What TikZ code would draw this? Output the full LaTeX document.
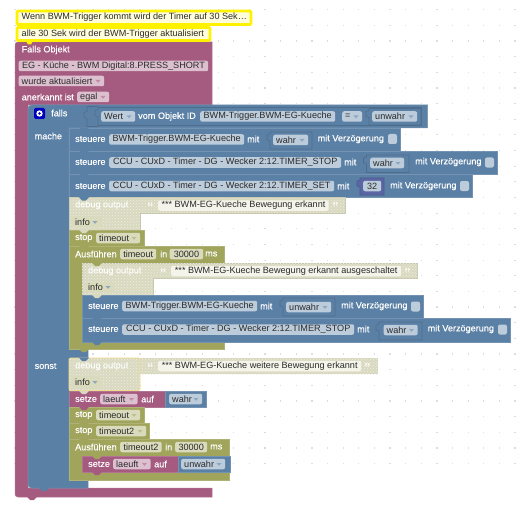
\documentclass[tikz,border=0pt]{standalone}
\usepackage{fontspec}
\setmainfont{Liberation Sans}
\newfontfamily\lblf[FakeBold=0.35]{Liberation Sans}
\usetikzlibrary{patterns}
\definecolor{purp}{HTML}{A55B80}
\definecolor{blu}{HTML}{5B80A5}
\definecolor{grn}{HTML}{A0A55B}
\definecolor{numb}{HTML}{5B67A5}
\definecolor{fpurp}{HTML}{DDC0CF}
\definecolor{fblu}{HTML}{BDCCDB}
\definecolor{fgrn}{HTML}{DADBBD}
\definecolor{fdis}{HTML}{F4F4EA}
\definecolor{dis}{HTML}{D9D9C0}
\definecolor{ink}{HTML}{2A2A2A}
\definecolor{griddot}{HTML}{DDDDDD}
\definecolor{warnline}{HTML}{F3D98B}
\tikzset{
  x=1pt,y=-1pt,
  lbl/.style={anchor=west,inner sep=0,text=white,font=\lblf\fontsize{9.1}{10}\selectfont},
  dlbl/.style={lbl,text=white!92!dis},
  fld/.style={anchor=west,inner sep=0,rounded corners=2pt,minimum height=10.5pt,text=ink,font=\fontsize{9.1}{10}\selectfont},
  blk/.style={fill=#1,draw=#1!85!white,line width=.5pt},
  vbox/.style={fill=#1,draw=#1!85!black,line width=.6pt},
  disb/.style={fill=dis,draw=dis!92!black,line width=.4pt},
  hatch/.style={pattern=crosshatch dots,pattern color=white!55!dis},
  cmt/.style={fill=white!86!yellow,draw=yellow,line width=2.8pt,rounded corners=1pt},
  quot/.style={anchor=west,inner sep=0,text=white!85!dis,font=\fontsize{13}{13}\bfseries\selectfont}
}
\newcounter{fc}
\newcommand\fld[5]{\stepcounter{fc}\pgfmathsetmacro\fw{#3-#2}%
  \node[fld,fill=#1,minimum width=\fw pt] (f\thefc) at (#2,#4) {#5};}
\newcommand\dfld[6]{\stepcounter{fc}\pgfmathsetmacro\fw{#3-#2}%
  \node[fld,fill=#1,minimum width=\fw pt] (f\thefc) at (#2,#4) {\hbox to \fw pt{\hspace{3pt}#5\hss}};
  \fill[#6] (#3-8.5,#4-1) -- (#3-3.5,#4-1) -- (#3-6,#4+1.8) -- cycle;}
\newcommand\notch[3]{\fill[#3] (#1+10,#2-.3) -- (#1+13,#2+3) -- (#1+17,#2+3) -- (#1+20,#2-.3) -- cycle;}
\newcommand\chkbox[2]{\fill[fblu,rounded corners=2pt] (#1,#2-5) rectangle (#1+9,#2+5);}
\newcommand\vb[5]{\draw[vbox=#5] (#1,#2) -- (#3,#2) -- (#3,#4) -- (#1,#4) -- (#1,#2+9) -- (#1-3,#2+8) -- (#1-3,#2+3) -- (#1,#2+2) -- cycle;}
\newcommand\lb[3][lbl]{\stepcounter{fc}\node[#1] (f\thefc) at (#2,#3)}
\begin{document}
\begin{tikzpicture}
\useasboundingbox (0,0) rectangle (522,508);
\fill[white] (0,0) rectangle (522,508);
% grid of dots
\foreach \i in {1,...,33}{\foreach \j in {0,...,29}{
  \fill[griddot] ({15.63*\i-.7-.6},{41+15.65*(\j-2)-.6}) rectangle ++(1.2,1.2);}}
% purple event block
\draw[blk=purp] (212,42) -- (212,105) -- (28,105) -- (28,488) -- (212,488) -- (212,497) [rounded corners=3pt] -- (15,497) -- (15,42) [sharp corners] -- cycle;
\notch{17}{497}{purp}
% comments
\draw[cmt] (17,11) rectangle (251,24.5);
\draw[cmt] (17,27.5) rectangle (210,40.5);
\fill[yellow] (26,41) -- (28,44.5) -- (31,44.5) -- (33,41) -- cycle;
\lb[fld,text=ink]{21.5}{17.3} {Wenn BWM-Trigger kommt wird der Timer auf 30 Sek…};
\lb[fld,text=ink]{21.5}{34} {alle 30 Sek wird der BWM-Trigger aktualisiert};
\lb{21.5}{50} {Falls Objekt};
\fld{fpurp}{18.5}{208}{66}{EG - Küche - BWM Digital:8.PRESS\_SHORT}
\dfld{fpurp}{18.5}{104}{81}{wurde aktualisiert}{purp!70!white}
\lb{21.5}{97} {anerkannt ist};
\dfld{fpurp}{77}{109}{97}{egal}{purp!70!white}
% blue if block
\draw[blk=blu] (427.5,105) -- (427.5,128) -- (69,128) -- (69,349) -- (88,349) -- (88,358) -- (69,358) -- (69,480) -- (88,480) -- (88,488) [rounded corners=3.5pt] -- (28,488) -- (28,105) [sharp corners] -- cycle;
\notch{29}{488}{blu}
% gear icon
\fill[blue!75!black,rounded corners=1.5pt] (34,108) rectangle (45,119);
\fill[white] (39.5,113.5) circle (3.2pt);
\fill[blue!75!black] (39.5,113.5) circle (1.3pt);
\lb{51}{113} {falls};
\lb{34.5}{136} {mache};
\lb{34.5}{366} {sonst};
% condition
\draw[blu!85!black,line width=.6pt] (98,106.5) -- (87,106.5) -- (87,111.5) -- (84,112.5) -- (84,117.5) -- (87,118.5) -- (87,126.5) -- (98,126.5);
\vb{98}{107.5}{421.5}{125.5}{blu}
\dfld{fblu}{101}{135}{116.5}{Wert}{blu!70!white}
\lb{138}{116.5} {vom Objekt ID};
\fld{fblu}{200}{335}{116.5}{BWM-Trigger.BWM-EG-Kueche}
\dfld{fblu}{342}{362}{116.5}{=}{blu!70!white}
\vb{369}{108.5}{421}{125}{blu}
\dfld{fblu}{372}{417}{116.5}{unwahr}{blu!70!white}
% steuere 1
\draw[blk=blu] (69,128) rectangle (400,151);
\notch{69}{128}{blu}
\lb{75}{139} {steuere};
\fld{fblu}{109}{244}{139.5}{BWM-Trigger.BWM-EG-Kueche}
\lb{247}{139} {mit};
\vb{270}{132}{312}{149}{blu}
\dfld{fblu}{273}{308}{140}{wahr}{blu!70!white}
\lb{317.5}{139} {mit Verzögerung};
\chkbox{388}{139}
% steuere 2
\draw[blk=blu] (69,151) rectangle (497,174);
\notch{69}{151}{blu}
\lb{75}{162} {steuere};
\fld{fblu}{109}{341}{162.5}{CCU - CUxD - Timer - DG - Wecker 2:12.TIMER\_STOP}
\lb{344}{162} {mit};
\vb{366.5}{155}{409}{172.5}{blu}
\dfld{fblu}{370}{404}{163}{wahr}{blu!70!white}
\lb{415}{162} {mit Verzögerung};
\chkbox{485}{162.5}
% steuere 3
\draw[blk=blu] (69,174) rectangle (472,197.5);
\notch{69}{174}{blu}
\lb{75}{186} {steuere};
\fld{fblu}{109}{334}{186}{CCU - CUxD - Timer - DG - Wecker 2:12.TIMER\_SET}
\lb{337}{186} {mit};
\vb{360}{178}{384}{195}{numb}
\fld{fblu}{363}{381}{186}{32}
\lb{390}{186} {mit Verzögerung};
\chkbox{460}{186}
% debug 1
\draw[disb] (69,197.5) -- (345.5,197.5) -- (345.5,213) -- (140,213) -- (140,230) -- (69,230) -- cycle;
\fill[hatch] (69,197.5) -- (345.5,197.5) -- (345.5,213) -- (140,213) -- (140,230) -- (69,230) -- cycle;
\notch{69}{197.5}{blu}
\lb[dlbl]{75}{205} {debug output};
\lb[quot]{147}{207} {“};
\fld{fdis}{158}{328.5}{205.5}{*** BWM-EG-Kueche Bewegung erkannt}
\lb[quot]{332}{207} {”};
\dfld{fgrn}{72}{101}{222}{info}{blu!70!white}
% stop
\draw[blk=grn] (69,230) rectangle (144,246);
\notch{69}{230}{dis}
\lb{75}{238} {stop};
\dfld{fgrn}{96}{140}{238}{timeout}{grn!70!white}
% Ausführen 1
\draw[blk=grn] (224,246) -- (224,263) -- (82,263) -- (82,342) -- (224,342) -- (224,349) -- (69,349) -- (69,246) -- cycle;
\notch{69}{246}{grn}
\lb{75}{254} {Ausführen};
\fld{fgrn}{120}{156}{254}{timeout}
\lb{160}{254} {in};
\fld{fgrn}{169.5}{203}{254}{30000}
\lb{205}{254} {ms};
\notch{69}{349}{grn}
% inner debug
\draw[disb] (82,263) -- (417.5,263) -- (417.5,278) -- (153,278) -- (153,295) -- (82,295) -- cycle;
\fill[hatch] (82,263) -- (417.5,263) -- (417.5,278) -- (153,278) -- (153,295) -- (82,295) -- cycle;
\notch{82}{263}{grn}
\lb[dlbl]{88}{271} {debug output};
\lb[quot]{160}{273} {“};
\fld{fdis}{171}{401}{271}{*** BWM-EG-Kueche Bewegung erkannt ausgeschaltet}
\lb[quot]{404}{273} {”};
\dfld{fgrn}{85}{114}{287}{info}{blu!70!white}
% inner steuere
\draw[blk=blu] (82,295) rectangle (423,318);
\notch{82}{295}{dis}
\lb{88}{306} {steuere};
\fld{fblu}{122}{257}{306}{BWM-Trigger.BWM-EG-Kueche}
\lb{260}{306} {mit};
\vb{283}{298}{335}{316}{blu}
\dfld{fblu}{286}{331}{307}{unwahr}{blu!70!white}
\lb{341}{306} {mit Verzögerung};
\chkbox{411}{306.5}
\draw[blk=blu] (82,318) rectangle (510,342);
\notch{82}{318}{blu}
\lb{88}{329} {steuere};
\fld{fblu}{122}{354}{329.5}{CCU - CUxD - Timer - DG - Wecker 2:12.TIMER\_STOP}
\lb{357}{329} {mit};
\vb{379}{322}{422}{340}{blu}
\dfld{fblu}{383.5}{417.5}{330}{wahr}{blu!70!white}
\lb{427.5}{329} {mit Verzögerung};
\chkbox{498}{329.5}
\notch{82}{342}{blu}
% debug 2
\fill[dis] (140,358) rectangle (377.5,374);
\fill[hatch] (140,358) rectangle (377.5,374);
\fill[dis,rounded corners=1.5pt] (69,358) rectangle (140,390.5);
\draw[draw=warnline,line width=.9pt,hatch,rounded corners=1.5pt] (69,358) rectangle (140,390.5);
\notch{69}{358}{blu}
\lb[dlbl]{75}{366} {debug output};
\lb[quot]{147}{368} {“};
\fld{fdis}{158}{361}{366}{*** BWM-EG-Kueche weitere Bewegung erkannt}
\lb[quot]{364}{368} {”};
\dfld{fgrn}{72}{101}{382}{info}{blu!70!white}
% setze 1
\draw[blk=purp] (69,391) rectangle (165,407);
\draw[blk=blu] (165,391) rectangle (206,407);
\notch{69}{391}{dis}
\lb{75}{399} {setze};
\dfld{fpurp}{100}{137.5}{399}{laeuft}{purp!70!white}
\lb{141}{399} {auf};
\dfld{fblu}{169}{202}{399}{wahr}{blu!70!white}
% stop
\draw[blk=grn] (69,407) rectangle (144,423);
\notch{69}{407}{purp}
\lb{75}{415} {stop};
\dfld{fgrn}{96}{140}{415}{timeout}{grn!70!white}
\draw[blk=grn] (69,423) rectangle (149,439);
\notch{69}{423}{grn}
\lb{75}{431} {stop};
\dfld{fgrn}{96}{146}{431}{timeout2}{grn!70!white}
% Ausführen 2
\draw[blk=grn] (229,439) -- (229,456) -- (82,456) -- (82,472) -- (229,472) -- (229,480) -- (69,480) -- (69,439) -- cycle;
\notch{69}{439}{grn}
\lb{75}{447} {Ausführen};
\fld{fgrn}{120}{161.5}{447}{timeout2}
\lb{165}{447} {in};
\fld{fgrn}{175}{207}{447}{30000}
\lb{210}{447} {ms};
% inner setze
\draw[blk=purp] (82,456) rectangle (178,472);
\draw[blk=blu] (178,456) rectangle (230,472);
\notch{82}{456}{grn}
\notch{82}{472}{purp}
\lb{88}{464} {setze};
\dfld{fpurp}{113}{150.5}{464}{laeuft}{purp!70!white}
\lb{154}{464} {auf};
\dfld{fblu}{181}{225}{464}{unwahr}{blu!70!white}
\end{tikzpicture}
\end{document}
